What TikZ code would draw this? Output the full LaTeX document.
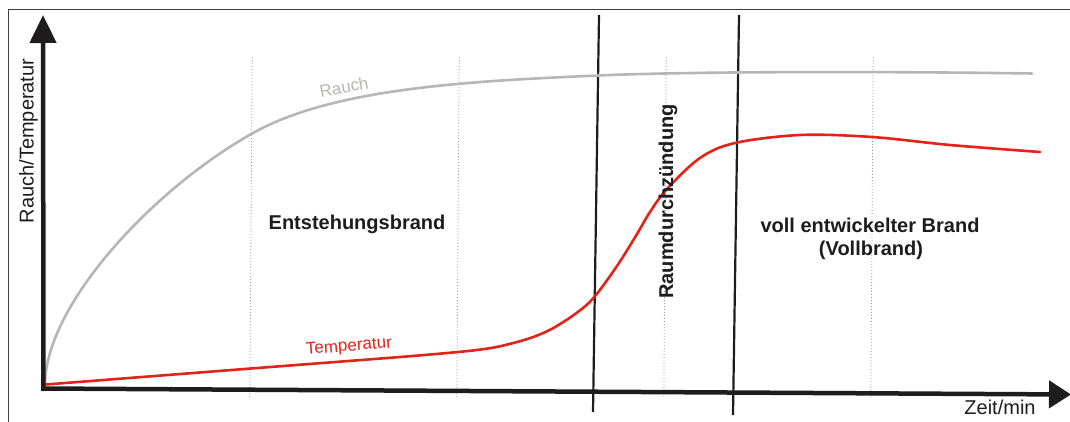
\documentclass[tikz,border=0pt]{standalone}
\usepackage{fontspec}
\setmainfont{Liberation Sans}
\usetikzlibrary{arrows.meta}
\definecolor{smoke}{HTML}{B8B6B4}
\definecolor{fire}{HTML}{E2231A}
\definecolor{ink}{HTML}{1E1C1C}
\tikzset{
  frameline/.style={draw=ink!85, line width=1pt},
  axisline/.style={draw=ink, line width=4.5pt},
  phaseline/.style={draw=ink, line width=2.2pt},
  gridline/.style={draw=gray!75, line width=0.8pt, dash pattern=on 1pt off 2pt},
  smokecurve/.style={draw=smoke, line width=2.6pt, line cap=round},
  firecurve/.style={draw=fire, line width=2.6pt, line cap=round},
  regtext/.style={font=\fontsize{20}{24}\selectfont, text=ink, inner sep=0pt},
  boldtext/.style={font=\bfseries\fontsize{20}{24}\selectfont, text=ink, inner sep=0pt},
  curvelabel/.style={font=\fontsize{17}{20}\selectfont, inner sep=0pt},
}
\begin{document}
\begin{tikzpicture}[x=1pt,y=-1pt]
\useasboundingbox (0,0) rectangle (1070,422);
% frame
\coordinate (fbl) at (8.5,422);
\coordinate (ftl) at (8.5,9.5);
\coordinate (ftr) at (1070,9.5);
\draw[frameline] (fbl) -- (ftl) -- (ftr);
% dotted grid lines
\foreach \n/\x in {g1/251, g2/458, g3/665, g4/872} {
  \coordinate (\n t) at (\x+1.2,57);
  \coordinate (\n b) at (\x-1.2,399);
  \draw[gridline] (\n t) -- (\n b);
}
% phase boundaries
\coordinate (p1t) at (599,15);
\coordinate (p1b) at (593,412);
\coordinate (p2t) at (739,15);
\coordinate (p2b) at (733,415);
\draw[phaseline] (p1t) -- (p1b);
\draw[phaseline] (p2t) -- (p2b);
% smoke curve
\coordinate (r0) at (45,385);
\coordinate (r1) at (253,133);
\coordinate (r2) at (598,75.5);
\coordinate (r3) at (1032,73.5);
\draw[smokecurve] (r0) .. controls (45,305) and (153,189) .. (r1)
  .. controls (333,88.2) and (468,81.2) .. (r2)
  .. controls (698,71.1) and (900,71.5) .. (r3);
% temperature curve
\draw[firecurve] plot[smooth, tension=0.55] coordinates {
 (46,384.5) (251,368.5) (400,357) (458,352) (480,349.6) (500,346.3)
 (528,338.8) (550,329.8) (573,315.5) (593,298.5) (617,266) (637,234)
 (650,212) (667,189) (700,158) (735,143) (800,135) (872,137) (950,145)
 (1040,152)};
% axes
\coordinate (o) at (43.5,391);
\coordinate (ytip) at (43,15);
\coordinate (xo) at (41,388.5);
\coordinate (xtip) at (1071,394.5);
\draw[axisline, -{Triangle[length=28pt,width=26pt]}] (o) -- (ytip);
\draw[axisline, -{Triangle[length=22pt,width=27pt]}] (xo) -- (xtip);
% texts
\node[regtext, rotate=90, anchor=base] (ylab) at (33.5,141) {Rauch/Temperatur};
\node[regtext, anchor=base] (xlab) at (1000,414) {Zeit/min};
\node[boldtext, anchor=base] (ent) at (357,229) {Entstehungsbrand};
\node[boldtext, rotate=90, anchor=base] (rdz) at (673,201.5) {Raumdurchzündung};
\node[boldtext, anchor=base] (vb1) at (870,232) {voll entwickelter Brand};
\node[boldtext, anchor=base] (vb2) at (871,255) {(Vollbrand)};
\node[curvelabel, text=smoke, rotate=10] (lrauch) at (344,87) {Rauch};
\node[curvelabel, text=fire, rotate=4.5] (ltemp) at (349,347) {Temperatur};
\end{tikzpicture}
\end{document}
